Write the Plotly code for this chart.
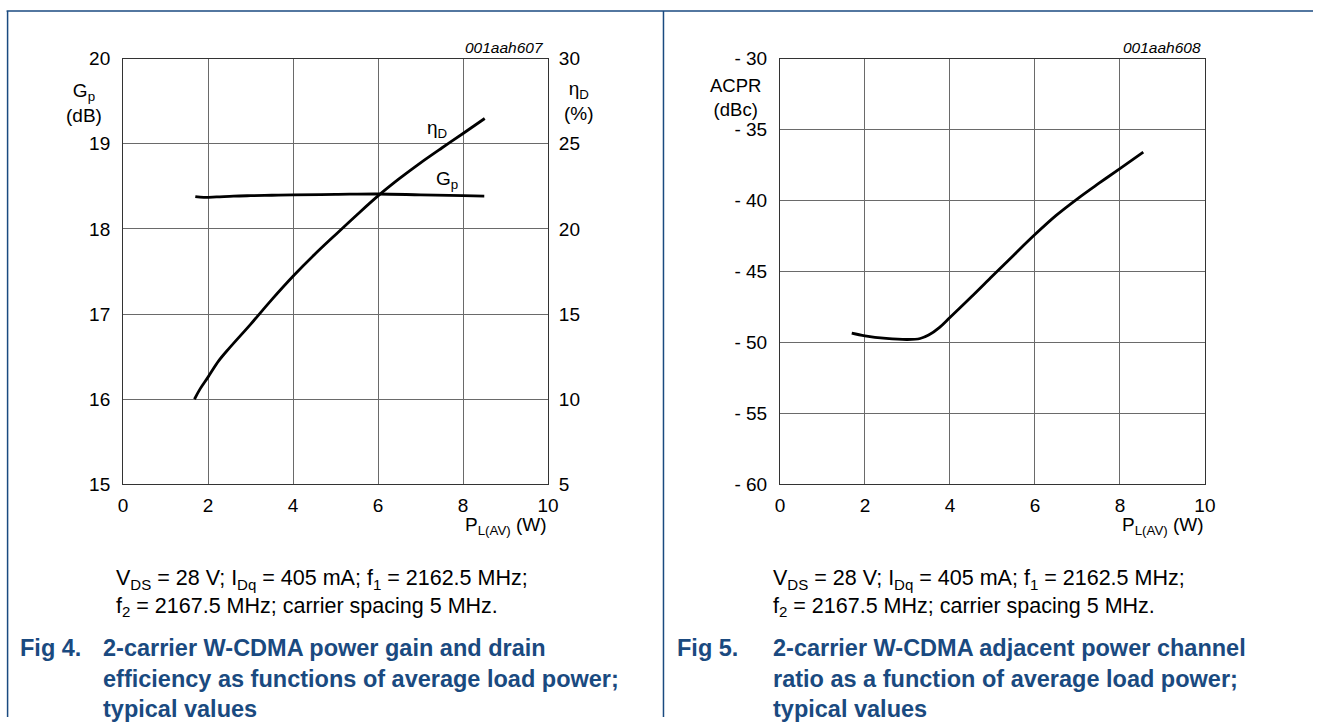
import plotly.graph_objects as go

W, H = 1324, 728

# ---- data ----
gp_x = [1.7, 1.9, 2.2, 2.6, 3.0, 3.5, 4.0, 5.0, 6.0, 7.0, 8.0, 8.5]
gp_y = [18.38, 18.37, 18.375, 18.385, 18.39, 18.395, 18.40, 18.405, 18.41, 18.40, 18.39, 18.385]

eta_x = [1.68, 1.8, 2.0, 2.25, 2.5, 3.0, 3.5, 4.0, 4.5, 5.0, 5.5, 6.0, 6.5, 7.0, 7.5, 8.0, 8.51]
eta_y = [10.0, 10.55, 11.3, 12.25, 13.0, 14.4, 15.85, 17.22, 18.48, 19.66, 20.82, 21.94, 22.95, 23.88, 24.75, 25.6, 26.48]

acpr_x = [1.69, 2.0, 2.5, 3.0, 3.3, 3.5, 3.75, 4.0, 4.5, 5.0, 5.5, 6.0, 6.5, 7.0, 7.5, 8.0, 8.55]
acpr_y = [-49.34, -49.53, -49.71, -49.79, -49.72, -49.48, -48.95, -48.24, -46.8, -45.32, -43.85, -42.4, -41.05, -39.88, -38.8, -37.75, -36.59]

x_ticks = [0, 2, 4, 6, 8, 10]
gp_ticks = [15, 16, 17, 18, 19, 20]
eta_ticks = [5, 10, 15, 20, 25, 30]
acpr_ticks = [-60, -55, -50, -45, -40, -35, -30]
acpr_ticklabels = ["- 60", "- 55", "- 50", "- 45", "- 40", "- 35", "- 30"]

# ---- helpers: map target-picture pixels to paper fractions ----
OX, SX = 2.4, 0.9926
OY, SY = 9.2, 0.976

def px(x):
    return min(max(((x - OX) / SX) / W, 0), 1)

def py(y):
    return min(max(1 - ((y - OY) / SY) / H, 0), 1)

FONT = "Liberation Sans, Arial, sans-serif"
BLUE = "#1a4a80"
GRID = "#6a6a6a"
FRAME = "#333333"
TICK = 19

fig = go.Figure()

fig.add_trace(go.Scatter(x=gp_x, y=gp_y, mode="lines", line=dict(color="black", width=2.8, shape="spline"),
                         xaxis="x", yaxis="y", showlegend=False))
fig.add_trace(go.Scatter(x=eta_x, y=eta_y, mode="lines", line=dict(color="black", width=2.8, shape="spline"),
                         xaxis="x", yaxis="y2", showlegend=False))
fig.add_trace(go.Scatter(x=acpr_x, y=acpr_y, mode="lines", line=dict(color="black", width=2.8, shape="spline"),
                         xaxis="x2", yaxis="y3", showlegend=False))

ydom = [py(486), py(58)]
xd1 = [px(121), px(548)]
xd2 = [px(781), px(1208)]

common_x = dict(range=[0, 10], tickvals=x_ticks, showgrid=True, gridcolor=GRID, gridwidth=1,
                showline=True, linecolor=FRAME, linewidth=1, mirror=True, zeroline=False,
                ticks="outside", ticklen=4, tickcolor="rgba(0,0,0,0)",
                tickfont=dict(family=FONT, size=TICK, color="black"), fixedrange=True)

fig.update_layout(
    width=W, height=H,
    margin=dict(l=0, r=0, t=0, b=0),
    paper_bgcolor="white", plot_bgcolor="white",
    xaxis=dict(domain=xd1, anchor="y", **common_x),
    yaxis=dict(domain=ydom, range=[15, 20], tickvals=gp_ticks, showgrid=True, gridcolor=GRID,
               showline=True, linecolor=FRAME, linewidth=1, mirror=True, zeroline=False,
               ticks="outside", ticklen=8, tickcolor="rgba(0,0,0,0)",
               tickfont=dict(family=FONT, size=TICK, color="black"), anchor="x"),
    yaxis2=dict(domain=ydom, range=[5, 30], tickvals=eta_ticks, overlaying="y", side="right",
                showgrid=False, zeroline=False, showline=False, anchor="x",
                ticks="outside", ticklen=6, tickcolor="rgba(0,0,0,0)",
                tickfont=dict(family=FONT, size=TICK, color="black")),
    xaxis2=dict(domain=xd2, anchor="y3", **common_x),
    yaxis3=dict(domain=ydom, range=[-60, -30], tickvals=acpr_ticks, ticktext=acpr_ticklabels,
                showgrid=True, gridcolor=GRID, showline=True, linecolor=FRAME, linewidth=1,
                mirror=True, zeroline=False, anchor="x2",
                ticks="outside", ticklen=8, tickcolor="rgba(0,0,0,0)",
                tickfont=dict(family=FONT, size=TICK, color="black")),
)

ann = []
def text(x, y, s, size=19, xanchor="center", yanchor="middle", color="black", align="center"):
    ann.append(dict(x=px(x), y=py(y), xref="paper", yref="paper", text=s, showarrow=False,
                    xanchor=xanchor, yanchor=yanchor, align=align,
                    font=dict(family=FONT, size=size, color=color)))

# left chart labels
text(82, 103, "G<sub>p</sub><br>(dB)", 19)
text(579, 101, "η<sub>D</sub><br>(%)", 19)
text(549, 528, "P<sub>L(AV)</sub> (W)", 19, xanchor="right")
text(546, 47, "<i>001aah607</i>", 15.5, xanchor="right")
text(436, 129, "η<sub>D</sub>", 19)
text(446, 180, "G<sub>p</sub>", 19)

# right chart labels
text(736, 97, "ACPR<br>(dBc)", 18.5)
text(1209, 528, "P<sub>L(AV)</sub> (W)", 19, xanchor="right")
text(1206, 47, "<i>001aah608</i>", 15.5, xanchor="right")

# captions
cond = ("V<sub>DS</sub> = 28 V; I<sub>Dq</sub> = 405 mA; f<sub>1</sub> = 2162.5 MHz;<br>"
        "f<sub>2</sub> = 2167.5 MHz; carrier spacing 5 MHz.")
CAP = 21.5
text(112, 595, cond, CAP, xanchor="left", align="left")
text(772, 595, cond, CAP, xanchor="left", align="left")

TT = 23.5
title4 = ("<b>2-carrier W-CDMA power gain and drain<br>"
          "efficiency as functions of average load power;<br>typical values</b>")
title5 = ("<b>2-carrier W-CDMA adjacent power channel<br>"
          "ratio as a function of average load power;<br>typical values</b>")
text(15, 635, "<b>Fig 4.</b>", TT, xanchor="left", yanchor="top", color=BLUE)
text(676, 635, "<b>Fig 5.</b>", TT, xanchor="left", yanchor="top", color=BLUE)
text(99, 635, title4, TT, xanchor="left", yanchor="top", align="left", color=BLUE)
text(772, 635, title5, TT, xanchor="left", yanchor="top", align="left", color=BLUE)

fig.update_layout(annotations=ann)

# frame lines
top = 1 - 1.0 / H
shapes = [
    dict(type="line", xref="paper", yref="paper", x0=px(4), x1=px(1318), y0=top, y1=top,
         line=dict(color=BLUE, width=1.5)),
    dict(type="line", xref="paper", yref="paper", x0=px(5), x1=px(5), y0=top, y1=0,
         line=dict(color=BLUE, width=1.5)),
    dict(type="line", xref="paper", yref="paper", x0=px(664), x1=px(664), y0=top, y1=0,
         line=dict(color=BLUE, width=1.5)),
]
fig.update_layout(shapes=shapes)

post = ("document.documentElement.style.margin='0';document.documentElement.style.padding='0';"
        "document.documentElement.style.overflow='hidden';"
        "document.body.style.margin='0';document.body.style.padding='0';document.body.style.overflow='hidden';")

fig.write_html("out.html", config={"displayModeBar": False}, post_script=post)
